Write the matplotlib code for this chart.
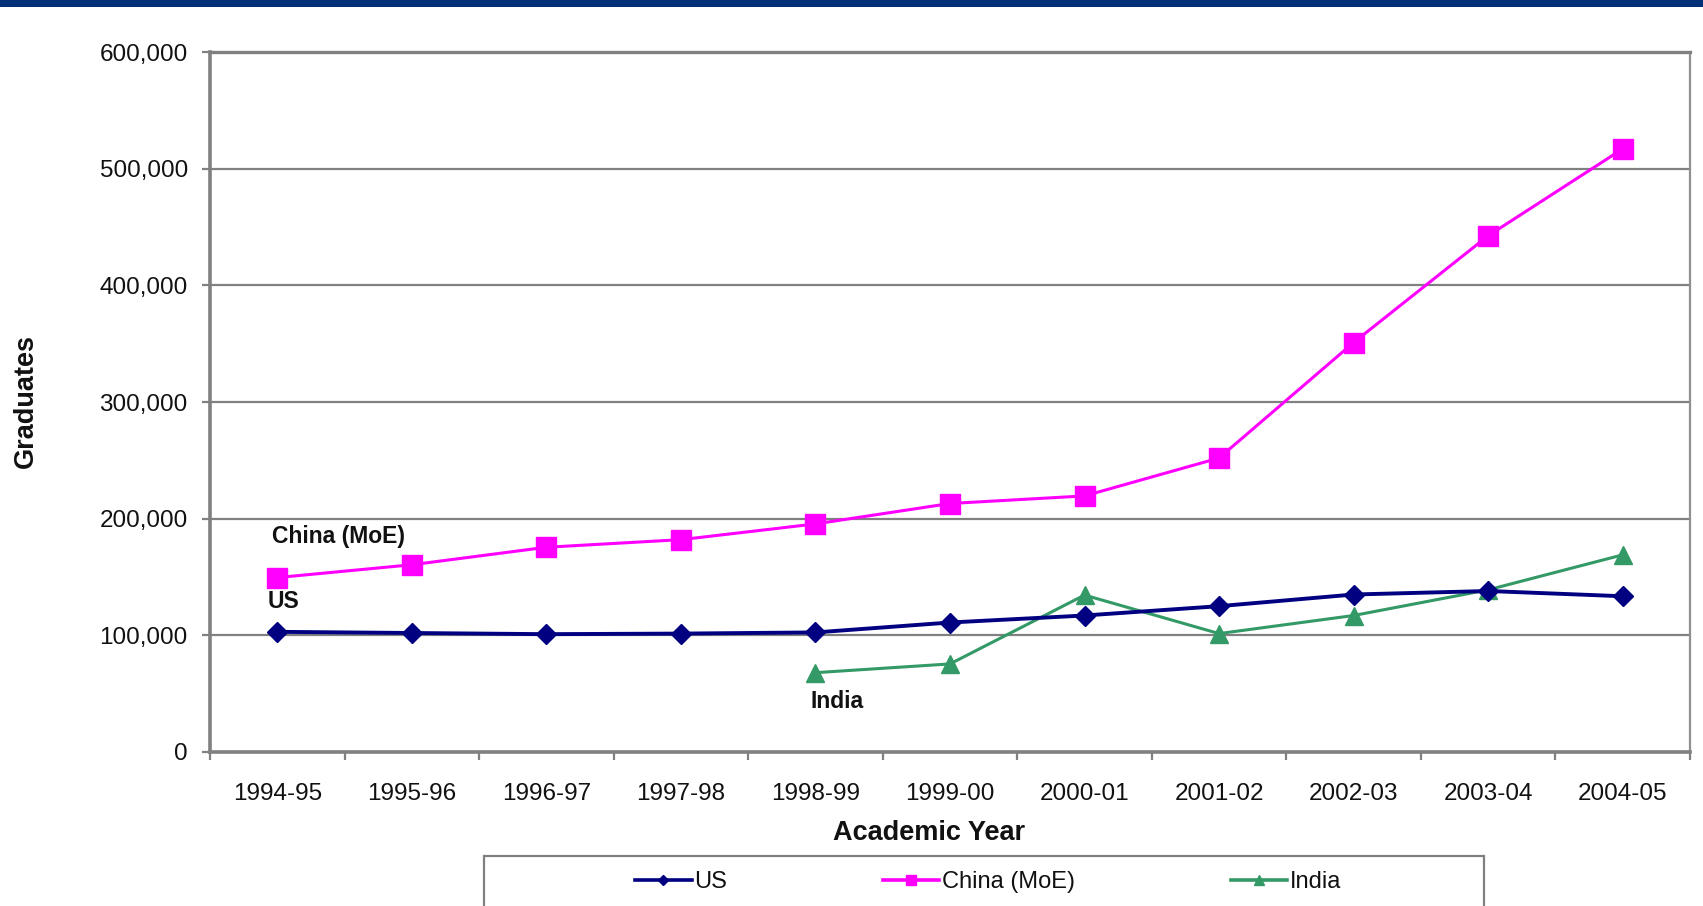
import numpy as np
import matplotlib
matplotlib.use("Agg")
import matplotlib.pyplot as plt
from matplotlib.lines import Line2D
from matplotlib.patches import Rectangle
from matplotlib.ticker import FuncFormatter, MultipleLocator, FixedLocator

plt.rcParams['font.family'] = ['Liberation Sans', 'DejaVu Sans']

# Engineering graduates by academic year
years = ['1994-95', '1995-96', '1996-97', '1997-98', '1998-99', '1999-00',
         '2000-01', '2001-02', '2002-03', '2003-04', '2004-05']
us = [103000, 102000, 101000, 101500, 102500, 111000, 117000, 125000, 135000, 138000, 133500]
china = [149500, 160500, 175500, 182000, 195500, 213000, 219500, 252000, 351000, 442500, 517000]
india = [np.nan, np.nan, np.nan, np.nan, 68000, 75500, 134500, 101500, 117000, 139000, 169000]

series_names = ['US', 'China (MoE)', 'India']
colors = ['#000080', '#FF00FF', '#339966']

W, H = 1703, 906
fig = plt.figure(figsize=(W / 100, H / 100), dpi=100)
ax = fig.add_axes([210 / W, 1 - 752 / H, 1480 / W, 700 / H])

x = np.arange(len(years))
ax.plot(x, us, color=colors[0], lw=2.8, marker='D', ms=10, zorder=4)
ax.plot(x, china, color=colors[1], lw=2.2, marker='s', ms=14.5, zorder=3)
ax.plot(x, india, color=colors[2], lw=2.2, marker='^', ms=13.5, zorder=3)

ax.set_xlim(-0.5, len(years) - 0.5)
ax.set_ylim(0, 600000)

# y axis: gridlines every 100,000
ax.yaxis.set_major_locator(MultipleLocator(100000))
ax.yaxis.set_major_formatter(FuncFormatter(lambda v, p: f"{int(v):,}"))
ax.grid(axis='y', color='#808080', lw=1.6, zorder=0)
ax.set_axisbelow(True)

# x axis: labels at category centres, tick marks between categories
ax.set_xticks(x)
ax.set_xticklabels(years)
ax.xaxis.set_minor_locator(FixedLocator(np.arange(-0.5, len(years), 1.0)))
ax.tick_params(axis='x', which='major', length=0, pad=22, labelsize=17.5, labelcolor='#111111')
ax.tick_params(axis='x', which='minor', length=6, width=1.6, color='#808080', direction='out')
ax.tick_params(axis='y', which='major', length=6, width=1.6, color='#808080', pad=10,
               labelsize=17.5, labelcolor='#111111')

for side in ['left', 'bottom']:
    ax.spines[side].set_color('#808080')
    ax.spines[side].set_linewidth(2.6)
ax.spines['right'].set_color('#909090')
ax.spines['right'].set_linewidth(1.6)
ax.spines['top'].set_color('#808080')
ax.spines['top'].set_linewidth(2.4)

# series labels inside the plot
ax.text(-0.04, 185000, 'China (MoE)', fontsize=16.5, fontweight='bold', ha='left', va='center', color='#111111')
ax.text(-0.07, 129000, 'US', fontsize=16.5, fontweight='bold', ha='left', va='center', color='#111111')
ax.text(3.96, 43500, 'India', fontsize=16.5, fontweight='bold', ha='left', va='center', color='#111111')

# axis titles
fig.text(26 / W, 1 - 401 / H, 'Graduates', rotation=90, ha='center', va='center',
         fontsize=19.5, fontweight='bold', color='#111111')
fig.text(929 / W, 1 - 833 / H, 'Academic Year', ha='center', va='center',
         fontsize=19.5, fontweight='bold', color='#111111')

# banner across the top
fig.patches.append(Rectangle((0, 1 - 7 / H), 1, 7 / H, transform=fig.transFigure,
                             facecolor='#003078', edgecolor='none'))

# legend frame and entries
fig.patches.append(Rectangle((484 / W, -0.02), 1000 / W, (906 - 856) / H + 0.02,
                             transform=fig.transFigure, facecolor='white',
                             edgecolor='#808080', lw=1.6))
handles = [
    Line2D([], [], color=colors[0], lw=2.6, marker='D', ms=5),
    Line2D([], [], color=colors[1], lw=2.6, marker='s', ms=7),
    Line2D([], [], color=colors[2], lw=2.6, marker='^', ms=7),
]
leg = fig.legend(handles, series_names, loc='center left',
                 bbox_to_anchor=(635 / W, 1 - 882 / H), ncol=3, frameon=False,
                 fontsize=17, handlelength=2.4, handletextpad=0.1, columnspacing=6.6,
                 borderpad=0, borderaxespad=0)
for t in leg.get_texts():
    t.set_color('#111111')

fig.savefig('out.png', dpi=100)
